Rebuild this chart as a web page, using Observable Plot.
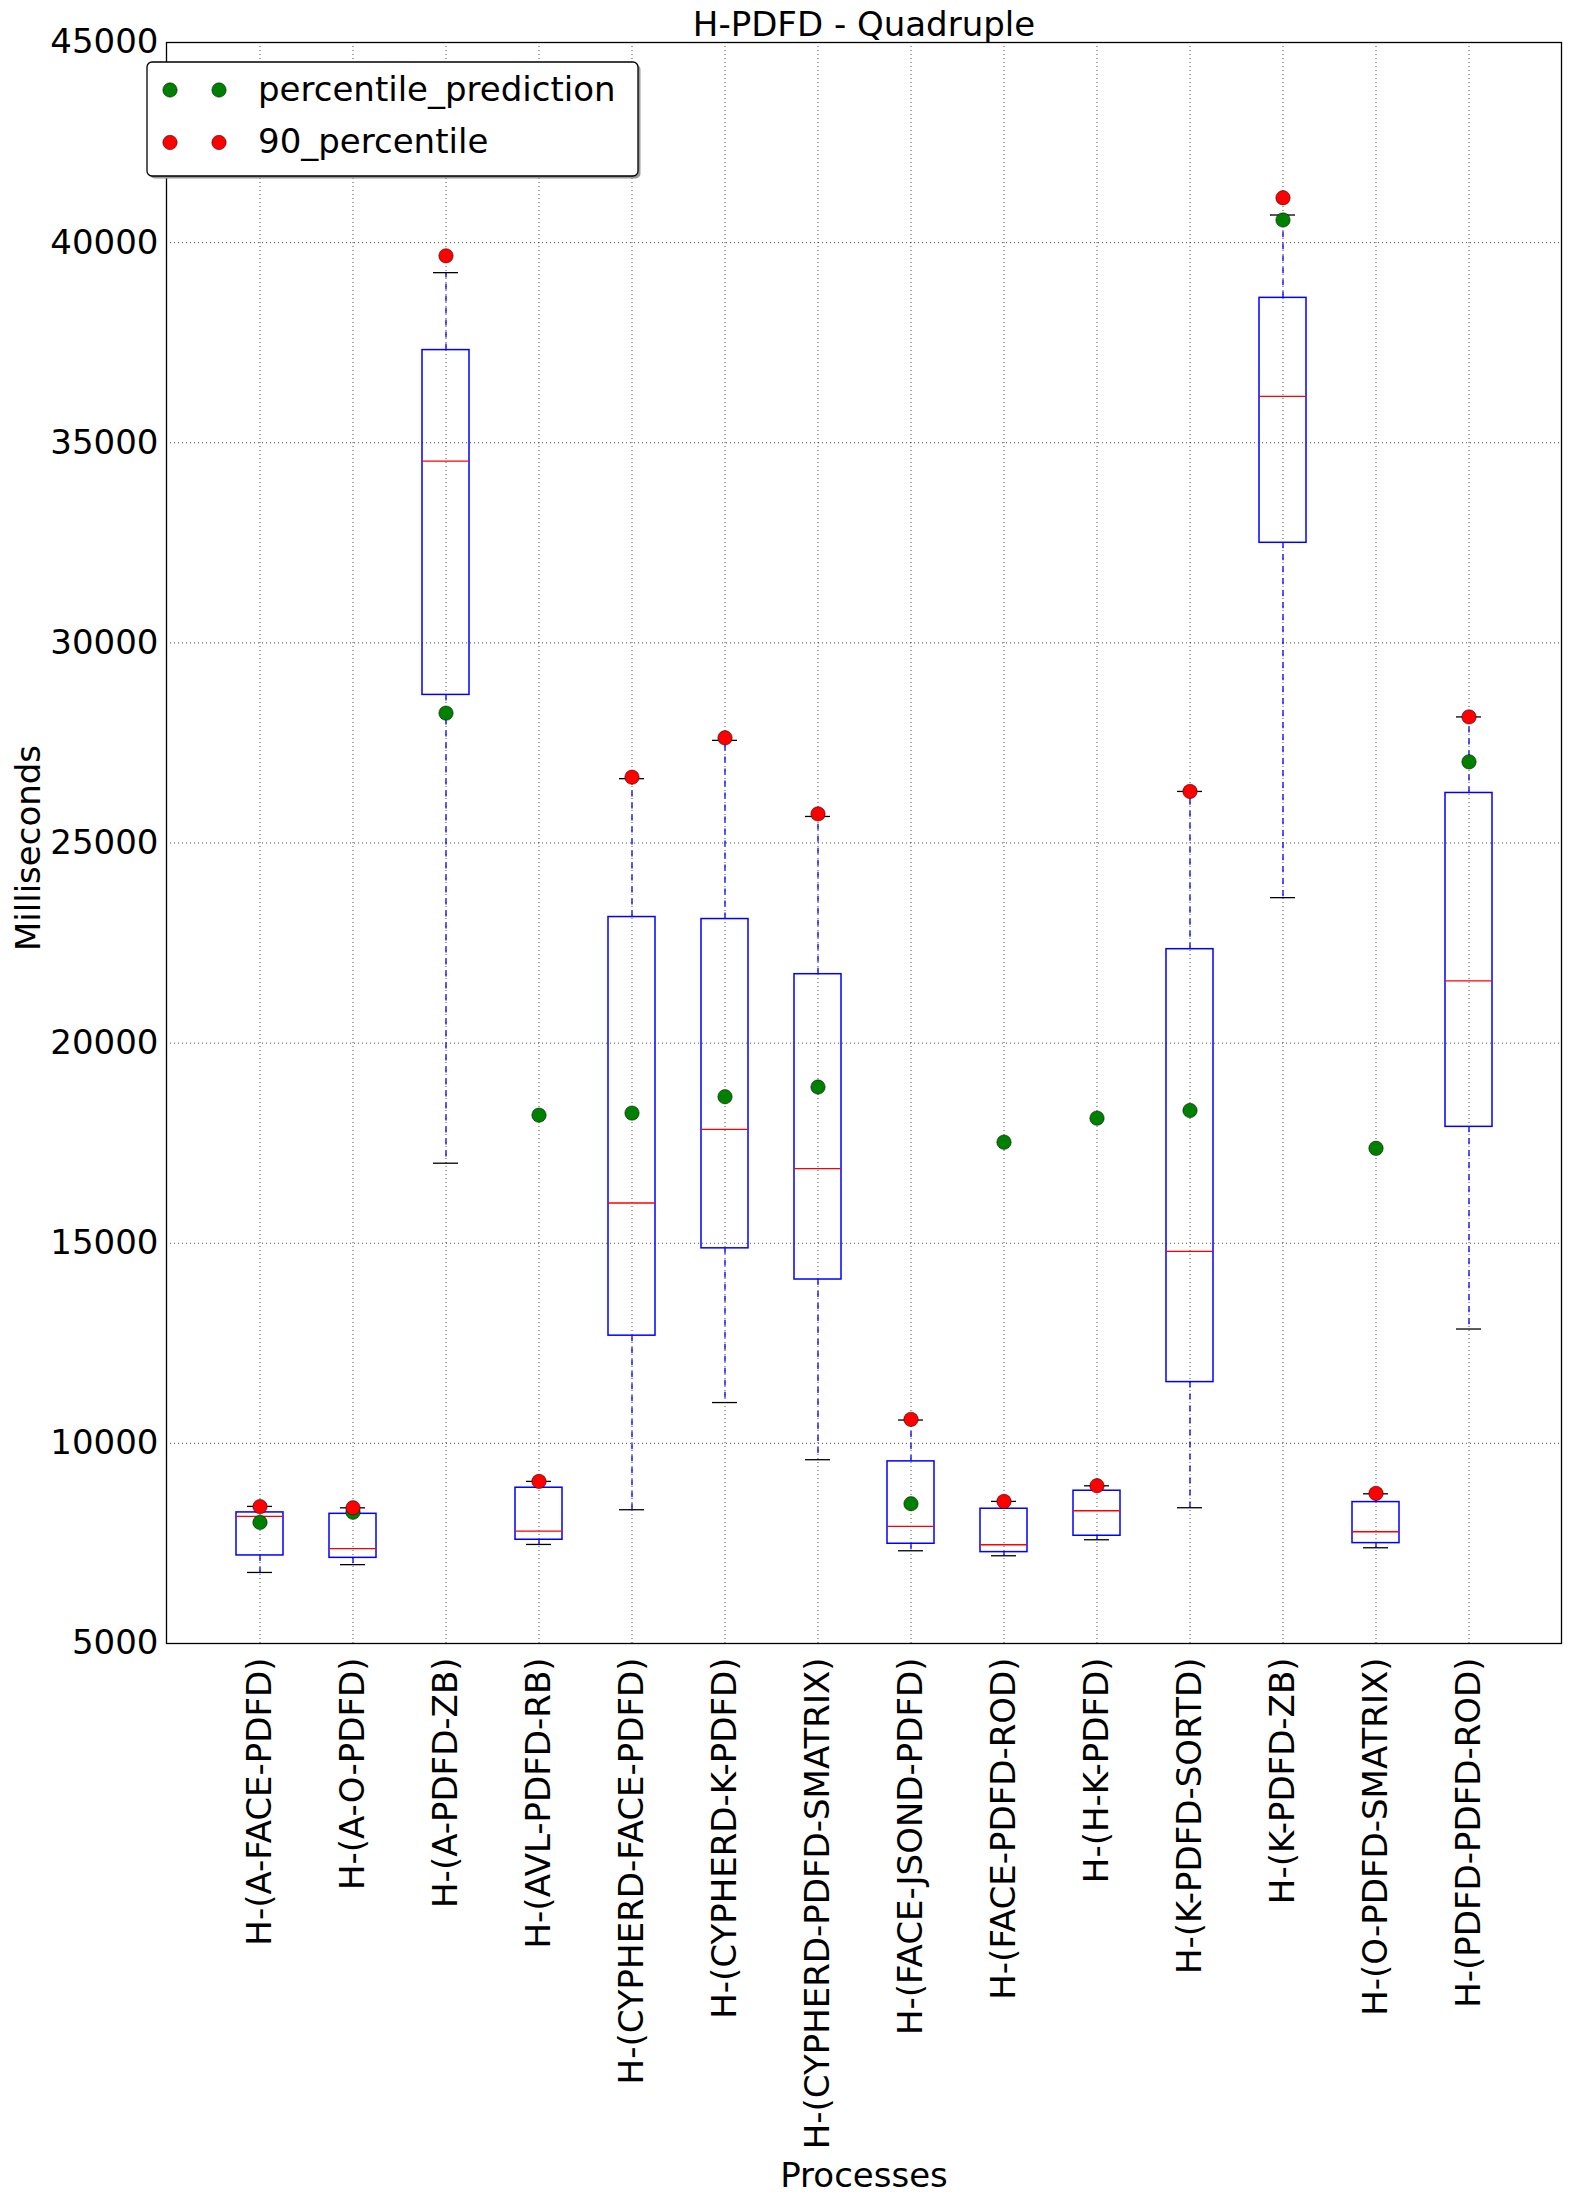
<!DOCTYPE html>
<html>
<head>
<meta charset="utf-8">
<script src="https://cdn.jsdelivr.net/npm/d3@7"></script>
<script src="https://cdn.jsdelivr.net/npm/@observablehq/plot@0.6"></script>
<style>
  html, body { margin: 0; padding: 0; background: white; }
  svg { display: block; }
</style>
</head>
<body>
<div id="chart"></div>
<script>
const names = ["H-(A-FACE-PDFD)", "H-(A-O-PDFD)", "H-(A-PDFD-ZB)", "H-(AVL-PDFD-RB)",
  "H-(CYPHERD-FACE-PDFD)", "H-(CYPHERD-K-PDFD)", "H-(CYPHERD-PDFD-SMATRIX)",
  "H-(FACE-JSOND-PDFD)", "H-(FACE-PDFD-ROD)", "H-(H-K-PDFD)", "H-(K-PDFD-SORTD)",
  "H-(K-PDFD-ZB)", "H-(O-PDFD-SMATRIX)", "H-(PDFD-PDFD-ROD)"];
const whiskerLow  = [6775, 6970, 17000, 7475, 8342, 11020, 9592, 7317, 7192, 7592, 8392, 23635, 7392, 12857];
const q1          = [7200, 7140, 28700, 7592, 12691, 14873, 14094, 7492, 7283, 7692, 11531, 32500, 7508, 17908];
const median      = [8175, 7370, 34540, 7808, 16005, 17844, 16862, 7925, 7467, 8317, 14796, 36160, 7792, 21556];
const q3          = [8275, 8240, 37315, 8892, 23150, 23100, 21722, 9550, 8367, 8817, 22347, 38620, 8533, 26250];
const whiskerHigh = [8425, 8390, 39250, 9050, 26607, 27564, 25663, 10583, 8550, 8940, 26288, 40690, 8740, 28150];
const percentilePrediction = [8025, 8280, 28245, 18200, 18252, 18661, 18903, 8492, 17525, 18125, 18316, 40565, 17372, 27028];
const percentile90 = [8420, 8390, 39670, 9050, 26645, 27628, 25727, 10600, 8550, 8942, 26288, 41120, 8750, 28150];
const yTicks = [5000, 10000, 15000, 20000, 25000, 30000, 35000, 40000, 45000];
const legendLabels = ["percentile_prediction", "90_percentile"];
const legendColors = ["#008000", "#ff0000"];
const title = "H-PDFD - Quadruple";
const xLabel = "Processes";
const yLabel = "Milliseconds";

(function () {
const rows = names.map((name, i) => ({
  name, lo: whiskerLow[i], q1: q1[i], med: median[i], q3: q3[i], hi: whiskerHigh[i],
  pred: percentilePrediction[i], p90: percentile90[i]
}));

const FONT = "DejaVu Sans";
const gridStyle = {stroke: "black", strokeOpacity: 1, strokeWidth: 0.7, strokeDasharray: "1,3"};

const chart = Plot.plot({
  width: 1571,
  height: 2205,
  marginLeft: 166,
  marginRight: 10,
  marginTop: 42,
  marginBottom: 562,
  style: {fontFamily: FONT, fontSize: "34px", background: "white", color: "black"},
  x: {type: "band", domain: names, paddingInner: 0.5, paddingOuter: 0.75, align: 0.5},
  y: {domain: [5000, 45000]},
  marks: [
    Plot.gridX(names, gridStyle),
    Plot.gridY(yTicks, gridStyle),
    Plot.ruleX(rows, {x: "name", y1: "q3", y2: "hi", stroke: "#0000ff", strokeWidth: 1.3, strokeDasharray: "6,6"}),
    Plot.ruleX(rows, {x: "name", y1: "q1", y2: "lo", stroke: "#0000ff", strokeWidth: 1.3, strokeDasharray: "6,6"}),
    Plot.tickY(rows, {x: "name", y: "hi", stroke: "black", strokeWidth: 1.3, insetLeft: 11, insetRight: 11}),
    Plot.tickY(rows, {x: "name", y: "lo", stroke: "black", strokeWidth: 1.3, insetLeft: 11, insetRight: 11}),
    Plot.barY(rows, {x: "name", y1: "q1", y2: "q3", fill: "none", stroke: "#0000ff", strokeWidth: 1.5}),
    Plot.tickY(rows, {x: "name", y: "med", stroke: "#ff0000", strokeWidth: 1.3}),
    Plot.dot(rows, {x: "name", y: "pred", r: 7.2, fill: "#008000", stroke: "black", strokeWidth: 0.5}),
    Plot.dot(rows, {x: "name", y: "p90", r: 7.2, fill: "#ff0000", stroke: "black", strokeWidth: 0.5}),
    Plot.frame({stroke: "black", strokeWidth: 1.3}),
    Plot.axisY(yTicks, {tickSize: 0, tickPadding: 8, fontSize: 34, label: null, tickFormat: d => String(d)}),
    Plot.axisX({tickSize: 0, tickPadding: 14, tickRotate: -90, fontSize: 34, label: null}),
    Plot.text([title], {text: d => d, frameAnchor: "top", lineAnchor: "middle", dy: -17, fontSize: 34}),
    Plot.text([xLabel], {text: d => d, frameAnchor: "bottom", lineAnchor: "middle", dy: 533, fontSize: 34})
  ]
});

document.getElementById("chart").appendChild(chart);

const svg = d3.select(chart);

// y axis label
svg.append("text")
  .attr("transform", "translate(28,848) rotate(-90)")
  .attr("text-anchor", "middle").attr("dy", "0.35em")
  .attr("font-family", FONT).attr("font-size", 34).attr("fill", "black")
  .text(yLabel);

// legend
const lg = svg.append("g").attr("text-anchor", "start");
lg.append("rect").attr("x", 149.5).attr("y", 64.5).attr("width", 491).attr("height", 114)
  .attr("rx", 5).attr("fill", "#9a9a9a");
lg.append("rect").attr("x", 147).attr("y", 62).attr("width", 491).attr("height", 114)
  .attr("rx", 5).attr("fill", "white").attr("stroke", "black").attr("stroke-width", 1.3);
legendLabels.forEach((lab, i) => {
  const cy = 90 + i * 52.5;
  [170, 219].forEach(cx => {
    lg.append("circle").attr("cx", cx).attr("cy", cy).attr("r", 7.2)
      .attr("fill", legendColors[i]).attr("stroke", "black").attr("stroke-width", 0.5);
  });
  lg.append("text").attr("x", 258).attr("y", cy).attr("dy", "0.32em")
    .attr("text-anchor", "start")
    .attr("font-family", FONT).attr("font-size", 34).attr("fill", "black").text(lab);
});
})();
</script>
</body>
</html>
